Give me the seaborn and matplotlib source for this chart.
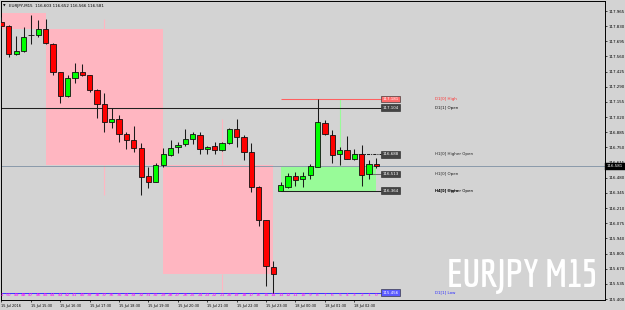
import math
import matplotlib
matplotlib.use("Agg")
import matplotlib.pyplot as plt
import matplotlib.transforms as mtransforms
from matplotlib import font_manager
from matplotlib.font_manager import FontProperties
from matplotlib.textpath import TextPath
import seaborn as sns

# ---------------- data (EURJPY M15 candles, left -> right) ----------------
opens = [117.867, 117.834, 117.578, 117.611, 117.751, 117.749, 117.802, 117.674, 117.422, 117.205,
         117.371, 117.422, 117.395, 117.261, 117.134, 116.979, 117.001, 116.870, 116.813, 116.742,
         116.493, 116.445, 116.594, 116.683, 116.754, 116.778, 116.822, 116.863, 116.736, 116.763,
         116.724, 116.787, 116.917, 116.840, 116.707, 116.398, 116.101, 115.685, 116.364, 116.400,
         116.493, 116.466, 116.504, 116.578, 116.968, 116.863, 116.687, 116.723, 116.650, 116.691,
         116.513, 116.603]
highs = [117.912, 117.840, 117.742, 117.823, 117.929, 117.882, 117.894, 117.684, 117.426, 117.395,
         117.499, 117.493, 117.399, 117.266, 117.232, 117.104, 117.039, 116.890, 116.941, 116.787,
         116.578, 116.609, 116.742, 116.813, 116.796, 116.911, 116.887, 116.887, 116.765, 116.796,
         116.798, 116.926, 117.001, 116.861, 116.789, 116.402, 116.104, 115.741, 116.445, 116.525,
         116.528, 116.528, 116.600, 117.181, 116.992, 116.905, 116.754, 116.854, 116.736, 116.772,
         116.635, 116.652]
lows = [117.823, 117.558, 117.569, 117.604, 117.668, 117.736, 117.667, 117.392, 117.143, 117.199,
        117.321, 117.383, 117.244, 117.009, 116.890, 116.920, 116.801, 116.736, 116.707, 116.326,
        116.386, 116.438, 116.578, 116.678, 116.703, 116.763, 116.781, 116.694, 116.694, 116.689,
        116.718, 116.781, 116.751, 116.638, 116.356, 116.053, 115.519, 115.456, 116.364, 116.393,
        116.409, 116.400, 116.466, 116.576, 116.863, 116.611, 116.591, 116.647, 116.638, 116.409,
        116.469, 116.566]
closes = [117.831, 117.579, 117.606, 117.731, 117.749, 117.802, 117.676, 117.419, 117.208, 117.371,
          117.422, 117.392, 117.259, 117.134, 116.979, 117.001, 116.867, 116.813, 116.748, 116.489,
          116.445, 116.594, 116.689, 116.745, 116.774, 116.827, 116.870, 116.736, 116.754, 116.724,
          116.787, 116.917, 116.840, 116.712, 116.400, 116.104, 115.697, 115.620, 116.413, 116.495,
          116.463, 116.493, 116.585, 116.974, 116.870, 116.685, 116.723, 116.651, 116.691, 116.504,
          116.600, 116.581]
bar_numbers = list(range(51, -1, -1))

# H4 period boxes
h4_start = [-10, 6, 22, 38]
h4_end = [6, 22, 37, 51]
h4_open = [117.947, 117.802, 116.594, 116.364]
h4_close = [117.802, 116.594, 115.620, 116.581]
h4_high = [117.947, 117.894, 117.001, 117.181]
h4_low = [117.802, 116.326, 115.456, 116.364]

# levels drawn on the right
level_names = ["D1[0] High", "D1[1] Open", "H1[0] Higher Open", "H1[0] Open", "H4[0] Open", "D1[1] Low"]
level_values = [117.181, 117.104, 116.688, 116.513, 116.364, 115.456]
level_from = [38, -1, 48, 50, 38, -1]
overlay_name = "H4[1] Higher Open"

time_tick_pos = [0, 4, 8, 12, 16, 20, 24, 28, 32, 36, 40, 44, 48]
time_labels = ["15 Jul 2016", "15 Jul 15:30", "15 Jul 16:30", "15 Jul 17:30", "15 Jul 18:30",
               "15 Jul 19:30", "15 Jul 20:30", "15 Jul 21:30", "15 Jul 22:30", "15 Jul 23:30",
               "18 Jul 00:30", "18 Jul 01:30", "18 Jul 02:30"]
price_ticks = [117.965, 117.830, 117.695, 117.560, 117.425, 117.290, 117.155, 117.020, 116.885,
               116.750, 116.615, 116.480, 116.345, 116.210, 116.075, 115.940, 115.805, 115.670,
               115.535, 115.400]
current_price = 116.581
title_text = "EURJPY,M15  116.603 116.652 116.566 116.581"
watermark = "EURJPY M15"

# ---------------- style ----------------
sns.set_theme(style="white")
plt.rcParams['font.family'] = ['DejaVu Sans']
BG = '#D3D3D3'
PINK = '#FFB6C1'
PGREEN = '#98FB98'

fig = plt.figure(figsize=(6.25, 3.10), dpi=100)
fig.patch.set_facecolor(BG)
ax = fig.add_axes([1 / 625, 10 / 310, 604 / 625, 299 / 310])
ax.set_facecolor(BG)
ax.set_xlim(-0.068, 82.11)
ax.set_ylim(115.3911, 118.0541)

# H4 boxes + their wicks
for s, e, o, c, h, l in zip(h4_start, h4_end, h4_open, h4_close, h4_high, h4_low):
    col = PGREEN if c >= o else PINK
    ax.fill_between([s, e], min(o, c), max(o, c), color=col, lw=0, zorder=1)
    ax.vlines(s + 8, max(o, c), h, color=col, lw=0.8, zorder=1)
    ax.vlines(s + 8, l, min(o, c), color=col, lw=0.8, zorder=1)

# current price line
ax.axhline(current_price, color='#8A9AAA', lw=0.7, zorder=2)

# level lines
lcolors = ['#FF6060', '#202020', '#202020', '#707070', '#202020', '#3A3AFF']
lstyles = ['-', '-', (0, (3, 1, 1, 1)), '-', '-', '-']
bcolors = ['#FF6A6A', '#444444', '#444444', '#444444', '#444444', '#5A5AFF']
tcolors = ['#FF3030', '#111111', '#222222', '#222222', '#000000', '#2A2AFF']
for nm, v, f0, lc, ls, bc, tc in zip(level_names, level_values, level_from, lcolors, lstyles, bcolors, tcolors):
    ax.hlines(v, f0, 51.6, color=lc, lw=0.75, linestyles=[ls], zorder=2)
    ax.text(51.85, v, f"{v:.3f}", ha='left', va='center', fontsize=2.9, color='white',
            bbox=dict(boxstyle='square,pad=0.35', fc=bc, ec='#222222', lw=0.4), zorder=6)
    ax.text(59.0, v, nm, ha='left', va='center', fontsize=2.9, color=tc, zorder=6)
ax.text(59.0, level_values[4], overlay_name, ha='left', va='center', fontsize=2.9, color='black', zorder=6)

# candles
ks = list(range(len(opens)))
ax.vlines(ks, lows, highs, color='#1a1a1a', lw=0.75, zorder=3)
for k, o, c in zip(ks, opens, closes):
    col = '#00FF00' if c > o else '#FF0000'
    ax.bar(k, max(abs(c - o), 0.002), bottom=min(o, c), width=0.72, color=col,
           edgecolor='#111111', linewidth=0.6, zorder=4)

# bar numbers
blend = mtransforms.blended_transform_factory(ax.transData, ax.transAxes)
for k, n in zip(ks, bar_numbers):
    ax.text(k, 0.017, str(n), transform=blend, ha='center', va='center', fontsize=3.2,
            color='#FF00FF', zorder=7, clip_on=True)

# axes
for sp in ax.spines.values():
    sp.set_visible(True)
    sp.set_color('black')
    sp.set_linewidth(0.7)
ax.yaxis.tick_right()
ax.set_yticks(price_ticks)
ax.set_yticklabels([f"{p:.3f}" for p in price_ticks])
ax.set_xticks(time_tick_pos)
ax.set_xticklabels(time_labels)
for lab in ax.get_xticklabels():
    lab.set_ha('left')
ax.tick_params(axis='y', right=True, left=False, labelright=True, labelleft=False,
               length=1.6, width=0.5, pad=1.2, labelsize=2.9, colors='black')
ax.tick_params(axis='x', bottom=True, length=1.6, width=0.5, pad=1.2, labelsize=2.5, colors='black')
ax.grid(False)

# current price box on the axis
bl2 = mtransforms.blended_transform_factory(ax.transAxes, ax.transData)
ax.text(1.003, current_price, f"{current_price:.3f}", transform=bl2, ha='left', va='center',
        fontsize=2.9, color='white', bbox=dict(boxstyle='square,pad=0.4', fc='black', ec='black', lw=0.3),
        clip_on=False, zorder=8)

# title
fig.text(2.5 / 625, 1 - 5.5 / 310, "▼", fontsize=2.4, va='center', ha='left', color='black')
fig.text(9 / 625, 1 - 5.5 / 310, title_text, fontsize=2.9, va='center', ha='left', color='black')


# watermark: pick the heavy bold font whose proportions best match (width 146 px, cap height 27 px)
def _w(f):
    w = f.weight
    if isinstance(w, str):
        w = font_manager.weight_dict.get(w, 400)
    return w


cands = [(FontProperties(family='DejaVu Sans', weight='bold'), 700)]
for f in font_manager.fontManager.ttflist:
    sty = str(f.style).lower()
    if _w(f) >= 600 and 'italic' not in sty and 'oblique' not in sty:
        cands.append((FontProperties(fname=f.fname), _w(f)))

target_w, target_h = 146.0, 27.0
target_r = target_w / target_h
best = None
for fp, wgt in cands:
    try:
        tp_w = TextPath((0, 0), watermark, prop=fp, size=20).get_extents().width
        tp_h = TextPath((0, 0), "E", prop=fp, size=20).get_extents().height
        if tp_h <= 0:
            continue
        r = tp_w / tp_h
        score = abs(math.log(r / target_r)) + (0.0 if wgt >= 700 else 0.08)
        if best is None or score < best[0]:
            best = (score, fp, tp_w)
    except Exception:
        pass
wm_size = 20 * (target_w * 72 / 100) / best[2]
fig.text(597 / 625, 22.5 / 310, watermark, ha='right', va='baseline', color='white',
         fontproperties=best[1], fontsize=wm_size, zorder=9)

fig.savefig('out.png', dpi=100, facecolor=BG)
